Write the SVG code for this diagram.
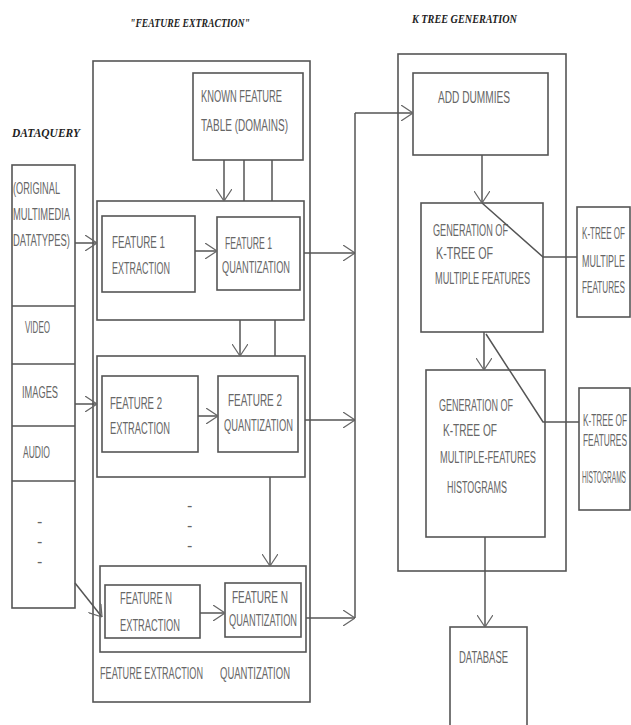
<svg xmlns="http://www.w3.org/2000/svg" width="631" height="725" viewBox="0 0 631 725">
<defs>
<style>
.b{fill:#fff;stroke:#555;stroke-width:1.6}
.n{fill:none;stroke:#555;stroke-width:1.6}
.l{fill:none;stroke:#555;stroke-width:1.5}
.a{fill:none;stroke:#555;stroke-width:1.5;marker-end:url(#ah)}
.t{font-family:"Liberation Sans",Arial,sans-serif;font-size:16px;fill:#666}
.h{font-family:"Liberation Serif","Times New Roman",serif;font-size:12px;font-style:italic;font-weight:bold;fill:#222}
</style>
<marker id="ah" viewBox="0 0 12 16" refX="12" refY="8" markerWidth="12" markerHeight="16" markerUnits="userSpaceOnUse" orient="auto">
<path d="M0,0 L12,8 L0,16" fill="none" stroke="#666" stroke-width="1.2"/>
</marker>
</defs>
<rect width="631" height="725" fill="#fff"/>

<g id="titles">
<text class="h" x="130" y="27" textLength="120" lengthAdjust="spacingAndGlyphs">"FEATURE EXTRACTION"</text>
<text class="h" x="412" y="23" textLength="105" lengthAdjust="spacingAndGlyphs">K TREE GENERATION</text>
<text class="h" x="12" y="137" textLength="68" lengthAdjust="spacingAndGlyphs">DATAQUERY</text>
</g>

<g id="dataquery">
<rect class="b" x="12" y="165" width="63" height="443"/>
<line class="n" x1="12" y1="306" x2="75" y2="306"/>
<line class="n" x1="12" y1="364" x2="75" y2="364"/>
<line class="n" x1="12" y1="426" x2="75" y2="426"/>
<line class="n" x1="12" y1="481" x2="75" y2="481"/>
<text class="t" x="13" y="194" textLength="47" lengthAdjust="spacingAndGlyphs">(ORIGINAL</text>
<text class="t" x="13" y="220" textLength="57" lengthAdjust="spacingAndGlyphs">MULTIMEDIA</text>
<text class="t" x="13" y="246" textLength="57" lengthAdjust="spacingAndGlyphs">DATATYPES)</text>
<text class="t" x="25" y="333" textLength="25" lengthAdjust="spacingAndGlyphs">VIDEO</text>
<text class="t" x="22" y="398" textLength="36" lengthAdjust="spacingAndGlyphs">IMAGES</text>
<text class="t" x="23" y="458" textLength="27" lengthAdjust="spacingAndGlyphs">AUDIO</text>
<text class="t" x="37" y="527">-</text>
<text class="t" x="37" y="547">-</text>
<text class="t" x="37" y="567">-</text>
</g>

<g id="feature-extraction">
<rect class="b" x="93" y="61" width="217" height="641"/>
<text class="t" x="100" y="679" textLength="103" lengthAdjust="spacingAndGlyphs">FEATURE EXTRACTION</text>
<text class="t" x="220" y="679" textLength="70" lengthAdjust="spacingAndGlyphs">QUANTIZATION</text>
<text class="t" x="187" y="511">-</text>
<text class="t" x="187" y="531">-</text>
<text class="t" x="187" y="551">-</text>
</g>

<g id="known-feature-table">
<rect class="b" x="193" y="73" width="110" height="87"/>
<text class="t" x="201" y="102" textLength="81" lengthAdjust="spacingAndGlyphs">KNOWN FEATURE</text>
<text class="t" x="201" y="131" textLength="87" lengthAdjust="spacingAndGlyphs">TABLE (DOMAINS)</text>
</g>

<g id="feature1">
<rect class="b" x="97" y="201" width="207" height="119"/>
<rect class="b" x="102" y="216" width="93" height="76"/>
<text class="t" x="112" y="248" textLength="53" lengthAdjust="spacingAndGlyphs">FEATURE 1</text>
<text class="t" x="112" y="274" textLength="58" lengthAdjust="spacingAndGlyphs">EXTRACTION</text>
<rect class="b" x="217" y="217" width="83" height="73"/>
<text class="t" x="225" y="249" textLength="47" lengthAdjust="spacingAndGlyphs">FEATURE 1</text>
<text class="t" x="222" y="273" textLength="68" lengthAdjust="spacingAndGlyphs">QUANTIZATION</text>
</g>

<g id="feature2">
<rect class="b" x="97" y="356" width="208" height="121"/>
<rect class="b" x="102" y="376" width="96" height="76"/>
<text class="t" x="110" y="409" textLength="52" lengthAdjust="spacingAndGlyphs">FEATURE 2</text>
<text class="t" x="110" y="434" textLength="60" lengthAdjust="spacingAndGlyphs">EXTRACTION</text>
<rect class="b" x="218" y="376" width="80" height="76"/>
<text class="t" x="228" y="406" textLength="54" lengthAdjust="spacingAndGlyphs">FEATURE 2</text>
<text class="t" x="224" y="431" textLength="69" lengthAdjust="spacingAndGlyphs">QUANTIZATION</text>
</g>

<g id="featureN">
<rect class="b" x="100" y="566" width="206" height="86"/>
<rect class="b" x="105" y="585" width="95" height="53"/>
<text class="t" x="120" y="604" textLength="52" lengthAdjust="spacingAndGlyphs">FEATURE N</text>
<text class="t" x="120" y="631" textLength="60" lengthAdjust="spacingAndGlyphs">EXTRACTION</text>
<rect class="b" x="225" y="583" width="76" height="54"/>
<text class="t" x="232" y="603" textLength="56" lengthAdjust="spacingAndGlyphs">FEATURE N</text>
<text class="t" x="229" y="626" textLength="68" lengthAdjust="spacingAndGlyphs">QUANTIZATION</text>
</g>

<g id="ktree-generation">
<rect class="b" x="398" y="54" width="168" height="517"/>
</g>

<g id="add-dummies">
<rect class="b" x="413" y="73" width="135" height="82"/>
<text class="t" x="438" y="103" textLength="72" lengthAdjust="spacingAndGlyphs">ADD  DUMMIES</text>
</g>

<g id="generation1">
<rect class="b" x="421" y="203" width="122" height="129"/>
<text class="t" x="433" y="236" textLength="75" lengthAdjust="spacingAndGlyphs">GENERATION OF</text>
<text class="t" x="436" y="259" textLength="57" lengthAdjust="spacingAndGlyphs">K-TREE  OF</text>
<text class="t" x="435" y="284" textLength="95" lengthAdjust="spacingAndGlyphs">MULTIPLE FEATURES</text>
</g>

<g id="generation2">
<rect class="b" x="426" y="370" width="119" height="167"/>
<text class="t" x="439" y="411" textLength="74" lengthAdjust="spacingAndGlyphs">GENERATION OF</text>
<text class="t" x="443" y="436" textLength="54" lengthAdjust="spacingAndGlyphs">K-TREE  OF</text>
<text class="t" x="440" y="463" textLength="96" lengthAdjust="spacingAndGlyphs">MULTIPLE-FEATURES</text>
<text class="t" x="447" y="493" textLength="60" lengthAdjust="spacingAndGlyphs">HISTOGRAMS</text>
</g>

<g id="ktree-multiple">
<rect class="b" x="577" y="207" width="53" height="110"/>
<text class="t" x="582" y="239" textLength="43" lengthAdjust="spacingAndGlyphs">K-TREE OF</text>
<text class="t" x="582" y="267" textLength="43" lengthAdjust="spacingAndGlyphs">MULTIPLE</text>
<text class="t" x="582" y="293" textLength="43" lengthAdjust="spacingAndGlyphs">FEATURES</text>
</g>

<g id="ktree-histograms">
<rect class="b" x="579" y="388" width="51" height="122"/>
<text class="t" x="583" y="426" textLength="44" lengthAdjust="spacingAndGlyphs">K-TREE OF</text>
<text class="t" x="583" y="446" textLength="44" lengthAdjust="spacingAndGlyphs">FEATURES</text>
<text class="t" x="582" y="483" textLength="44" lengthAdjust="spacingAndGlyphs">HISTOGRAMS</text>
</g>

<g id="database">
<rect class="b" x="450" y="627" width="77" height="110"/>
<text class="t" x="459" y="663" textLength="49" lengthAdjust="spacingAndGlyphs">DATABASE</text>
</g>

<g id="connectors">
<line class="a" x1="75" y1="243" x2="97" y2="243"/>
<line class="a" x1="75" y1="404" x2="97" y2="404"/>
<line class="a" x1="75" y1="583" x2="102" y2="617"/>
<line class="a" x1="224" y1="160" x2="224" y2="201"/>
<line class="l" x1="244" y1="160" x2="244" y2="201"/>
<line class="l" x1="272" y1="160" x2="272" y2="201"/>
<line class="a" x1="195" y1="251" x2="217" y2="251"/>
<line class="a" x1="198" y1="416" x2="218" y2="416"/>
<line class="a" x1="200" y1="613" x2="225" y2="613"/>
<line class="a" x1="240" y1="320" x2="240" y2="356"/>
<line class="l" x1="275" y1="320" x2="275" y2="356"/>
<line class="a" x1="270" y1="477" x2="270" y2="566"/>
<line class="a" x1="304" y1="253" x2="355" y2="253"/>
<line class="a" x1="305" y1="420" x2="355" y2="420"/>
<line class="a" x1="306" y1="618" x2="355" y2="618"/>
<line class="l" x1="355" y1="113" x2="355" y2="618"/>
<line class="a" x1="355" y1="113" x2="413" y2="113"/>
<line class="a" x1="482" y1="155" x2="482" y2="203"/>
<polyline class="l" points="482,203 543,257 577,257"/>
<line class="a" x1="484" y1="332" x2="484" y2="370"/>
<polyline class="l" points="486,334 543,422 579,422"/>
<line class="a" x1="485" y1="537" x2="485" y2="627"/>
</g>
</svg>
